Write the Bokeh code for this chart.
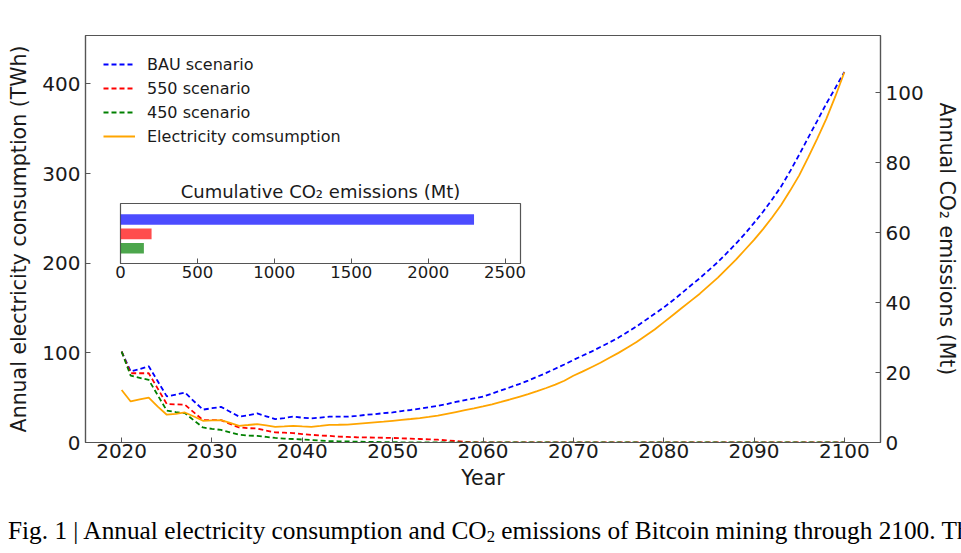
from bokeh.plotting import figure
from bokeh.models import Range1d, LinearAxis, FixedTicker, Div
from bokeh.layouts import column
from bokeh.embed import file_html
from bokeh.resources import INLINE

# ---------------- data ----------------
years = list(range(2020, 2101))

electricity_twh = [
    58.5, 45.8, 48.0, 50.0, 40.0, 31.0, 32.0, 33.5, 29.0, 24.2,
    24.6, 25.0, 22.0, 18.6, 19.5, 20.5, 19.0, 17.5, 18.0, 18.6,
    18.0, 17.5, 18.5, 19.7, 19.8, 20.0, 20.8, 21.6, 22.4, 23.2,
    24.2, 25.2, 26.2, 27.3, 28.5, 30.0, 32.0, 34.0, 36.0, 38.0,
    40.2, 42.6, 45.2, 48.0, 51.0, 54.0, 57.3, 60.8, 64.6, 68.9,
    74.4, 79.0, 84.0, 89.0, 94.5, 100.0, 106.0, 112.0, 119.0, 126.0,
    134.0, 142.0, 150.0, 158.0, 166.0, 175.0, 184.0, 194.0, 204.0, 215.0,
    226.0, 238.0, 251.0, 265.0, 281.0, 298.0, 318.0, 339.0, 361.0, 386.0,
    413.0,
]

bau_mt = [
    26.0, 20.3, 21.0, 21.8, 17.5, 13.2, 13.7, 14.3, 11.8, 9.4,
    9.8, 10.2, 8.8, 7.4, 7.8, 8.3, 7.5, 6.7, 7.0, 7.4,
    7.1, 6.9, 7.1, 7.4, 7.4, 7.4, 7.6, 7.9, 8.1, 8.4,
    8.6, 9.0, 9.3, 9.7, 10.1, 10.5, 11.0, 11.6, 12.1, 12.6,
    13.1, 14.0, 14.9, 15.8, 16.7, 17.7, 18.8, 19.9, 21.1, 22.3,
    23.6, 24.8, 26.0, 27.3, 28.6, 30.0, 31.6, 33.2, 35.0, 36.8,
    38.6, 40.6, 42.7, 44.9, 47.0, 49.3, 51.6, 54.2, 56.9, 59.7,
    62.8, 66.0, 69.5, 73.2, 77.6, 82.3, 87.2, 92.0, 96.9, 101.4,
    106.0,
]

s550_mt = [
    26.0, 19.8, 19.8, 19.8, 15.4, 11.0, 10.9, 10.8, 8.6, 6.4,
    6.4, 6.4, 5.3, 4.3, 4.1, 4.0, 3.4, 2.9, 2.8, 2.7,
    2.4, 2.2, 2.0, 1.9, 1.7, 1.6, 1.5, 1.45, 1.4, 1.35,
    1.3, 1.2, 1.1, 1.0, 0.9, 0.8, 0.6, 0.4, 0.2, 0.1,
    0.0, 0.0, 0.0, 0.0, 0.0, 0.0, 0.0, 0.0, 0.0, 0.0,
    0.0, 0.0, 0.0, 0.0, 0.0, 0.0, 0.0, 0.0, 0.0, 0.0,
    0.0, 0.0, 0.0, 0.0, 0.0, 0.0, 0.0, 0.0, 0.0, 0.0,
    0.0, 0.0, 0.0, 0.0, 0.0, 0.0, 0.0, 0.0, 0.0, 0.0,
    0.0,
]

s450_mt = [
    26.0, 19.1, 18.5, 17.9, 13.5, 9.1, 8.7, 8.4, 6.3, 4.3,
    3.9, 3.6, 2.9, 2.2, 2.0, 1.9, 1.6, 1.3, 1.1, 1.0,
    0.85, 0.7, 0.55, 0.4, 0.35, 0.3, 0.25, 0.2, 0.15, 0.1,
    0.08, 0.06, 0.04, 0.02, 0.01, 0.0, 0.0, 0.0, 0.0, 0.0,
    0.0, 0.0, 0.0, 0.0, 0.0, 0.0, 0.0, 0.0, 0.0, 0.0,
    0.0, 0.0, 0.0, 0.0, 0.0, 0.0, 0.0, 0.0, 0.0, 0.0,
    0.0, 0.0, 0.0, 0.0, 0.0, 0.0, 0.0, 0.0, 0.0, 0.0,
    0.0, 0.0, 0.0, 0.0, 0.0, 0.0, 0.0, 0.0, 0.0, 0.0,
    0.0,
]

x_ticks = [2020, 2030, 2040, 2050, 2060, 2070, 2080, 2090, 2100]
left_ticks = [0, 100, 200, 300, 400]
right_ticks = [0, 20, 40, 60, 80, 100]

inset_scenarios = ["BAU", "550", "450"]
inset_positions = [2, 1, 0]
cumulative_mt = [2298, 202, 152]
inset_colors = ["blue", "red", "green"]
inset_ticks = [0, 500, 1000, 1500, 2000, 2500]

FONT = "DejaVu Sans"
SPINE = "#555555"
TXT = "#1a1a1a"
W, H = 961, 500

# ---------------- main figure ----------------
p = figure(width=W, height=H,
           x_range=Range1d(2016, 2104), y_range=Range1d(0, 454),
           output_backend="svg", toolbar_location=None,
           min_border_left=85, min_border_right=76,
           min_border_top=35, min_border_bottom=58)
p.frame_align = False
p.margin = (0, 0, 0, 0)
p.extra_y_ranges = {"co2": Range1d(0, 116.4)}
p.xgrid.grid_line_color = None
p.ygrid.grid_line_color = None
p.outline_line_color = SPINE
p.outline_line_width = 1.2
p.background_fill_color = "white"
p.border_fill_color = "white"

dash = "5 3"
p.line(years, bau_mt, y_range_name="co2", line_color="blue", line_width=1.8,
       line_dash=dash, legend_label="BAU scenario")
p.line(years, s550_mt, y_range_name="co2", line_color="red", line_width=1.8,
       line_dash=dash, legend_label="550 scenario")
p.line(years, s450_mt, y_range_name="co2", line_color="green", line_width=1.8,
       line_dash=dash, legend_label="450 scenario")
p.line(years, electricity_twh, line_color="orange", line_width=1.8,
       legend_label="Electricity comsumption")

right_axis = LinearAxis(y_range_name="co2", axis_label="Annual CO\u2082 emissions (Mt)")
p.add_layout(right_axis, "right")


def style_axis(ax, ticks, tick_size, label_size, label_standoff, tick_standoff):
    ax.ticker = FixedTicker(ticks=ticks)
    ax.major_tick_in = 5
    ax.major_tick_out = 0
    ax.minor_tick_line_color = None
    ax.axis_line_color = SPINE
    ax.axis_line_width = 1.2
    ax.major_tick_line_color = SPINE
    ax.major_label_text_font = FONT
    ax.major_label_text_font_size = tick_size
    ax.major_label_text_color = TXT
    ax.major_label_standoff = tick_standoff
    ax.axis_label_text_font = FONT
    ax.axis_label_text_font_size = label_size
    ax.axis_label_text_font_style = "normal"
    ax.axis_label_text_color = TXT
    ax.axis_label_standoff = label_standoff


style_axis(p.xaxis[0], x_ticks, "20px", "20.5px", 5, 1)
p.xaxis[0].axis_label = "Year"
style_axis(p.yaxis[0], left_ticks, "20px", "20.5px", 8, 5)
p.yaxis[0].axis_label = "Annual electricity consumption (TWh)"
style_axis(right_axis, right_ticks, "20px", "20.5px", 8, 5)

lg = p.legend[0]
lg.location = (18, 296)
lg.padding = 0
lg.margin = 0
lg.spacing = 4
lg.glyph_width = 32
lg.glyph_height = 20
lg.label_height = 20
lg.label_standoff = 12
lg.label_text_font = FONT
lg.label_text_font_size = "16px"
lg.label_text_color = TXT
lg.border_line_alpha = 0
lg.background_fill_alpha = 0

# ---------------- inset (transparent overlay of the same size) ----------------
inset = figure(width=W, height=H,
               x_range=Range1d(0, 2600), y_range=Range1d(-1.05, 3.1),
               output_backend="svg", toolbar_location=None,
               min_border_left=120, min_border_right=441,
               min_border_top=203, min_border_bottom=237,
               title="Cumulative CO\u2082 emissions (Mt)")
inset.frame_align = False
inset.margin = (-H, 0, 0, 0)
inset.border_fill_alpha = 0
inset.background_fill_color = "white"
inset.hbar(y=inset_positions, left=0, right=cumulative_mt, height=0.73,
           fill_color=inset_colors, fill_alpha=0.7, line_alpha=0)
inset.xgrid.grid_line_color = None
inset.ygrid.grid_line_color = None
inset.yaxis.visible = False
inset.outline_line_color = SPINE
inset.outline_line_width = 1.2
style_axis(inset.xaxis[0], inset_ticks, "16.5px", "16px", 2, 2)
inset.title.text_font = FONT
inset.title.text_font_size = "18px"
inset.title.text_font_style = "normal"
inset.title.text_color = TXT
inset.title.align = "center"
inset.title.standoff = 3

# ---------------- caption ----------------
caption = Div(
    text=("Fig. 1 | Annual electricity consumption and CO"
          "<sub style='font-size:0.66em; vertical-align:-0.18em; line-height:0'>2</sub>"
          " emissions of Bitcoin mining through 2100. Th"),
    width=W - 8, height=32,
    styles={"font-family": "Liberation Serif", "font-size": "25.3px",
            "white-space": "nowrap", "overflow": "hidden",
            "line-height": "32px", "color": "#000"})
caption.margin = (14, 0, 0, 8)

layout = column(p, inset, caption, spacing=0)
open("out.html", "w").write(file_html(layout, INLINE))
